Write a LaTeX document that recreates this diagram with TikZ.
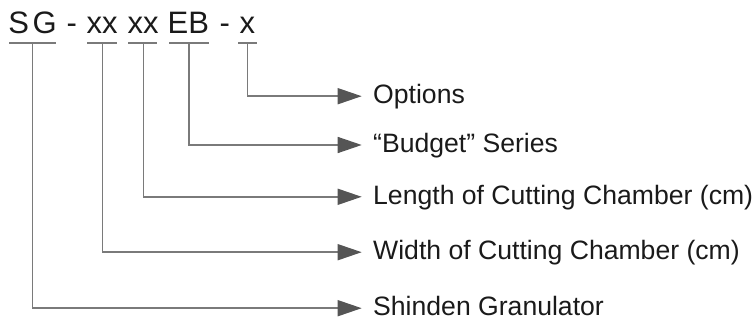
\documentclass[tikz,border=0pt]{standalone}
\usepackage{fontspec}
\setmainfont{Liberation Sans}
\usetikzlibrary{arrows.meta}
\definecolor{linegray}{HTML}{7A7A7A}
\definecolor{tipgray}{HTML}{555555}
\definecolor{textblack}{HTML}{1A1A1A}
\begin{document}
\begin{tikzpicture}[x=1pt,y=-1pt,
  titlepart/.style={anchor=base west,inner sep=0pt,text=textblack,font=\fontsize{31}{31}\selectfont},
  lab/.style={anchor=base west,inner sep=0pt,text=textblack,font=\fontsize{26.6}{26.6}\selectfont},
  uline/.style={draw=linegray,line width=1.5pt},
  conn/.style={draw=linegray,line width=1.5pt,-{Triangle[length=24pt,width=16pt,color=tipgray,fill=tipgray]}}]
\useasboundingbox (0,0) rectangle (756,320);
% title
\node[titlepart] (s)  at (8.3,33.3) {S};
\node[titlepart] (g)  at (32.3,33.3) {G};
\node[titlepart] (h1) at (66.5,33.3) {-};
\node[titlepart] (x1) at (86.3,33.3) {xx};
\node[titlepart] (x2) at (127.3,33.3) {xx};
\node[titlepart] (eb) at (167.5,33.3) {EB};
\node[titlepart] (h2) at (219.5,33.3) {-};
\node[titlepart] (x3) at (239.3,33.3) {x};
% underlines
\draw[uline] (9,43) -- (56,43);
\draw[uline] (87,43) -- (117,43);
\draw[uline] (128,43) -- (157,43);
\draw[uline] (169,43) -- (209,43);
\draw[uline] (238,43) -- (257,43);
% connector start points
\coordinate (u1) at (247.5,43);
\coordinate (u2) at (189,43);
\coordinate (u3) at (143.5,43);
\coordinate (u4) at (102.3,43);
\coordinate (u5) at (32.5,43);
% tips
\coordinate (t1) at (361.7,96.2);
\coordinate (t2) at (361.7,145);
\coordinate (t3) at (361.7,196.8);
\coordinate (t4) at (361.7,252.2);
\coordinate (t5) at (361.7,308.2);
% labels
\node[lab] (l1) at ([xshift=11.3pt,yshift=-7.3pt]t1) {Options};
\node[lab] (l2) at ([xshift=11.3pt,yshift=-7.3pt]t2) {“Budget” Series};
\node[lab] (l3) at ([xshift=11.3pt,yshift=-7.3pt]t3) {Length of Cutting Chamber (cm)};
\node[lab] (l4) at ([xshift=11.3pt,yshift=-7.3pt]t4) {Width of Cutting Chamber (cm)};
\node[lab] (l5) at ([xshift=11.3pt,yshift=-7.3pt]t5) {Shinden Granulator};
% connectors
\draw[conn] (u1) |- (t1);
\draw[conn] (u2) |- (t2);
\draw[conn] (u3) |- (t3);
\draw[conn] (u4) |- (t4);
\draw[conn] (u5) |- (t5);
\end{tikzpicture}
\end{document}
